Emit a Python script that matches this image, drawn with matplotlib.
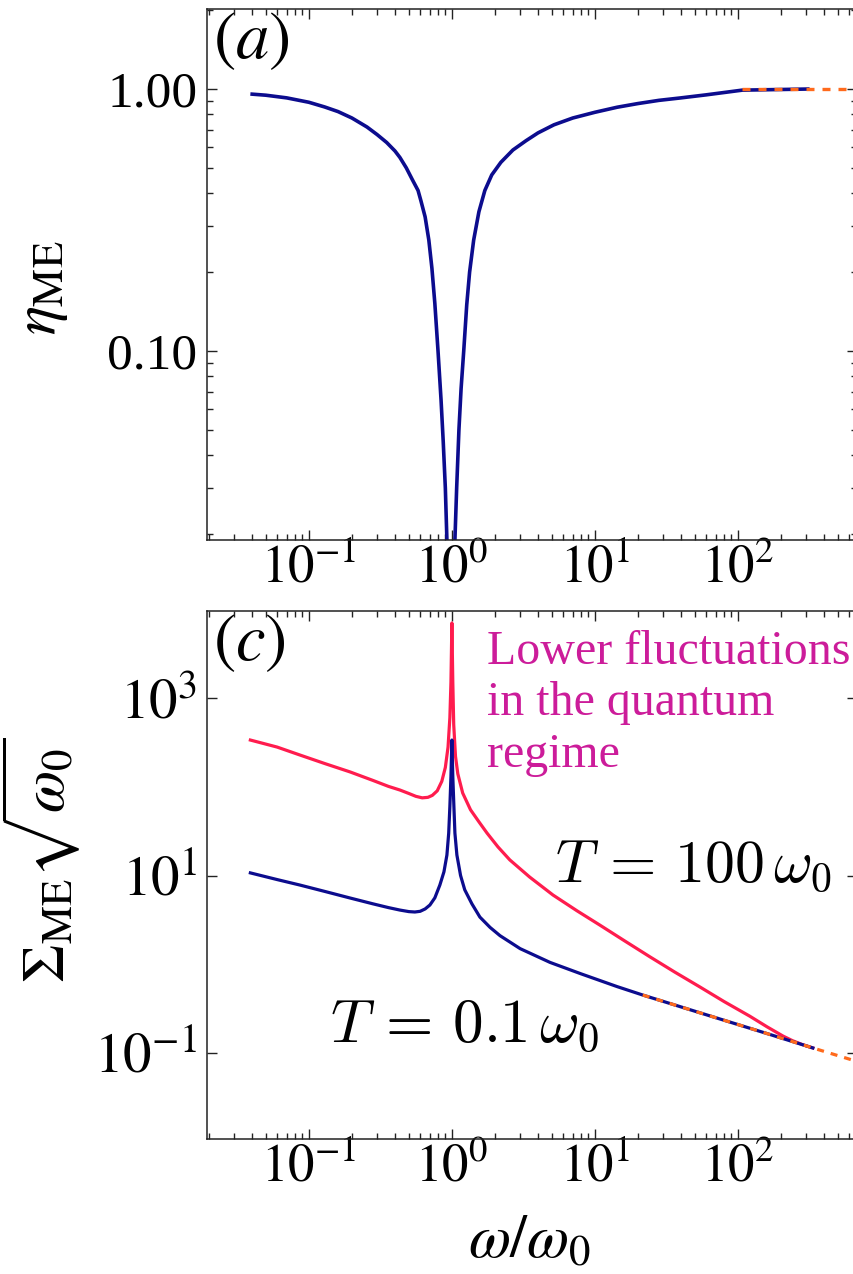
import matplotlib
matplotlib.use("Agg")
import matplotlib.pyplot as plt
from matplotlib.ticker import LogLocator, FixedLocator, NullFormatter

# panel (a): eficiencia
w_eta = [0.039, 0.05, 0.07, 0.1, 0.129, 0.16, 0.2, 0.255, 0.3, 0.35, 0.4, 0.433, 0.48,
         0.53, 0.58, 0.607, 0.65, 0.69, 0.725, 0.76, 0.80, 0.84, 0.87, 0.90, 0.923,
         0.96, 1.0, 1.04, 1.05, 1.08, 1.12, 1.16, 1.21, 1.27, 1.33, 1.42, 1.545, 1.7,
         1.9, 2.2, 2.67, 3.3, 4.0, 5.17, 7.0, 10.0, 14.3, 20.0, 28.0, 39.3, 60.0, 107.0,
         317.0]
eta = [0.957, 0.947, 0.925, 0.89, 0.854, 0.82, 0.775, 0.716, 0.67, 0.625, 0.58, 0.548, 0.50,
       0.45, 0.41, 0.375, 0.325, 0.265, 0.207, 0.152, 0.10, 0.065, 0.045, 0.03, 0.019,
       0.007, 0.0005, 0.007, 0.019, 0.03, 0.05, 0.072, 0.10, 0.15, 0.2, 0.265, 0.34, 0.41,
       0.47, 0.525, 0.585, 0.635, 0.68, 0.73, 0.775, 0.815, 0.852, 0.88, 0.905, 0.924, 0.95,
       0.99, 1.0]
w_eta_asint = [107.0, 800.0]
eta_asint = [1.0, 1.0]

# panel (c): fluctuaciones para T = 100 w0
w_alta = [0.039, 0.06, 0.0865, 0.13, 0.194, 0.28, 0.36, 0.433, 0.5, 0.56, 0.62, 0.68,
          0.73, 0.79, 0.85, 0.9, 0.94, 0.968, 0.985, 1.0, 1.015, 1.03, 1.06, 1.1, 1.19,
          1.35, 1.55, 1.76, 2.1, 2.54, 3.5, 5.09, 7.5, 10.8, 16.0, 24.3, 36.0, 54.2, 80.0,
          121.0, 160.0, 207.0, 240.0, 280.0, 334.0]
sigma_alta = [336.0, 280.0, 228.0, 182.0, 147.0, 118.0, 101.0, 91.9, 84.0, 78.0, 75.0, 76.0,
              80.0, 90.0, 115.0, 165.0, 280.0, 600.0, 1500.0, 7000.0, 1500.0, 500.0, 220.0,
              140.0, 85.0, 55.0, 40.0, 30.1, 21.0, 15.0, 9.6, 6.03, 4.0, 2.77, 1.85, 1.21,
              0.82, 0.555, 0.38, 0.26, 0.197, 0.155, 0.138, 0.125, 0.114]
# T = 0.1 w0
w_baja = [0.039, 0.06, 0.0865, 0.13, 0.194, 0.28, 0.36, 0.433, 0.5, 0.551, 0.6, 0.65,
          0.702, 0.76, 0.824, 0.88, 0.923, 0.95, 0.968, 0.985, 1.0, 1.015, 1.033, 1.05,
          1.084, 1.15, 1.23, 1.38, 1.57, 1.85, 2.17, 3.0, 4.85, 8.0, 14.3, 21.6, 54.2,
          159.0, 334.0]
sigma_baja = [10.7, 9.0, 7.81, 6.6, 5.58, 4.8, 4.35, 4.08, 3.92, 3.88, 3.95, 4.2,
              4.65, 5.6, 7.81, 11.0, 17.0, 30.0, 60.0, 130.0, 336.0, 130.0, 60.0, 30.0,
              17.0, 10.0, 6.9, 4.8, 3.4, 2.6, 2.1, 1.5, 1.05, 0.78, 0.56, 0.45, 0.284,
              0.166, 0.114]
w_sig_asint = [21.6, 54.2, 159.0, 334.0, 578.0, 800.0]
sigma_asint = [0.45, 0.284, 0.166, 0.114, 0.087, 0.074]

azul = "#0c0c8e"
rojo = "#ff1c4e"
naranja = "#ff6a1c"
magenta = "#cc1c9a"

plt.rcParams["font.family"] = ["Liberation Serif", "DejaVu Serif"]
plt.rcParams["mathtext.fontset"] = "stix"

fig = plt.figure(figsize=(8.54, 12.74), dpi=100)
W, H = 854.0, 1274.0


def ejes(x0, x1, y0, y1):
    return fig.add_axes([x0 / W, 1 - y1 / H, (x1 - x0) / W, (y1 - y0) / H])


ax1 = ejes(207, 857, 9, 540)
ax2 = ejes(207, 857, 611, 1139)

for ax in (ax1, ax2):
    ax.set_xscale("log")
    ax.set_yscale("log")
    ax.set_xlim(0.0194, 680)
    ax.xaxis.set_major_locator(FixedLocator([0.1, 1, 10, 100]))
    ax.xaxis.set_minor_locator(LogLocator(base=10, subs=range(2, 10), numticks=20))
    ax.xaxis.set_minor_formatter(NullFormatter())
    ax.set_xticklabels([r"$10^{-1}$", r"$10^{0}$", r"$10^{1}$", r"$10^{2}$"])
    ax.tick_params(which="both", direction="in", top=True, right=True,
                   labelsize=38, width=1.0, color="#222222")
    ax.tick_params(which="major", length=7)
    ax.tick_params(which="minor", length=4.5)
    ax.tick_params(axis="x", pad=3)
    ax.tick_params(axis="y", pad=7)
    for s in ax.spines.values():
        s.set_linewidth(1.1)
        s.set_color("#222222")

# panel (a)
ax1.plot(w_eta, eta, color=azul, lw=2.6, solid_capstyle="butt")
ax1.plot(w_eta_asint, eta_asint, color=naranja, lw=2.4, dashes=(2.4, 2.4))
ax1.set_ylim(0.019, 2.02)
ax1.yaxis.set_major_locator(FixedLocator([0.1, 1.0]))
ax1.set_yticklabels(["0.10", "1.00"])
ax1.yaxis.set_minor_locator(LogLocator(base=10, subs=range(2, 10), numticks=20))
ax1.yaxis.set_minor_formatter(NullFormatter())
ax1.tick_params(axis="y", labelsize=37)
ax1.text(0.01, 0.998, r"$(a)$", transform=ax1.transAxes, fontsize=48,
         ha="left", va="top")

# panel (c)
ax2.plot(w_alta, sigma_alta, color=rojo, lw=2.3)
ax2.plot(w_baja, sigma_baja, color=azul, lw=2.3)
ax2.plot(w_sig_asint, sigma_asint, color=naranja, lw=2.3, dashes=(2.2, 2.2))
ax2.set_ylim(0.01074, 9560)
ax2.yaxis.set_major_locator(FixedLocator([0.1, 10, 1000]))
ax2.set_yticklabels([r"$10^{-1}$", r"$10^{1}$", r"$10^{3}$"])
ax2.yaxis.set_minor_locator(FixedLocator([]))
ax2.tick_params(axis="y", labelsize=41)
ax2.text(0.01, 0.998, r"$(c)$", transform=ax2.transAxes, fontsize=48,
         ha="left", va="top")

fig.text(487 / W, 1 - 630 / H, "Lower fluctuations\nin the quantum\nregime",
         color=magenta, fontsize=34.5, ha="left", va="top", linespacing=1.22)
fig.text(555 / W, 1 - 882 / H, r"$T\,=\,100\,\omega_0$", fontsize=43, math_fontfamily="cm",
         ha="left", va="baseline")
fig.text(330 / W, 1 - 1042 / H, r"$T\,=\,0.1\,\omega_0$", fontsize=44, math_fontfamily="cm",
         ha="left", va="baseline")

# etiquetas de los ejes
fig.text(42 / W, 1 - 288 / H, r"$\eta_{\rm ME}$", fontsize=44, rotation=90,
         ha="center", va="center")
fig.text(41 / W, 1 - 860 / H, r"$\Sigma_{\rm ME}\sqrt{\omega_0}$", fontsize=44, rotation=90,
         ha="center", va="center")
fig.text(530 / W, 1 - 1243 / H, r"$\omega/\omega_0$", fontsize=44, ha="center", va="center")

fig.savefig("out.png", dpi=100)
